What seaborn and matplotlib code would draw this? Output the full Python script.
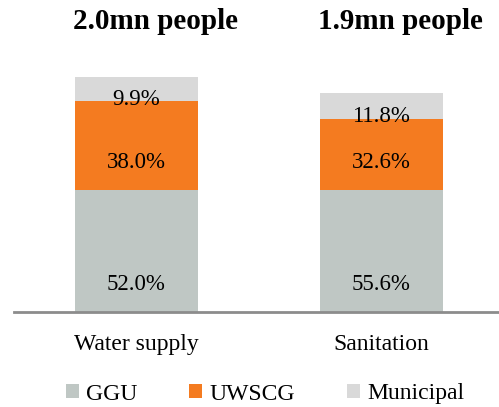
"""Stacked bars: share of people served by GGU, UWSCG and municipal providers."""

import matplotlib

matplotlib.use("Agg")

import matplotlib.pyplot as plt
import numpy as np
import pandas as pd
import seaborn as sns
from matplotlib.patches import Patch

categories = ["Water supply", "Sanitation"]
people_mn = [2.0, 1.86]
people_labels = ["2.0mn people", "1.9mn people"]
providers = ["GGU", "UWSCG", "Municipal"]
ggu_pct = [52.0, 55.6]
uwscg_pct = [38.0, 32.6]
municipal_pct = [9.9, 11.8]

COLORS = {"GGU": "#BFC7C4", "UWSCG": "#F47B20", "Municipal": "#D9D9D9"}

sns.set_theme(style="white")
plt.rcParams["font.family"] = ["Liberation Serif", "DejaVu Serif"]
plt.rcParams["text.color"] = "black"
plt.rcParams["xtick.color"] = "black"

shares = np.array([ggu_pct, uwscg_pct, municipal_pct]) / 100.0
heights = shares * np.array(people_mn)
tops = np.cumsum(heights, axis=0)
bottoms = tops - heights

fig = plt.figure(figsize=(4.99, 4.07), dpi=100)
ax = fig.add_axes([14 / 499, 1 - 312 / 407, 484 / 499, 307 / 407])

# draw cumulative totals from the top segment down so each layer covers the next
for i in reversed(range(len(providers))):
    df = pd.DataFrame({"category": categories, "value": tops[i]})
    sns.barplot(data=df, x="category", y="value", color=COLORS[providers[i]],
                width=0.5, saturation=1, linewidth=0, ax=ax)

for i, name in enumerate(providers):
    pct = [ggu_pct, uwscg_pct, municipal_pct][i]
    for j in range(len(categories)):
        if heights[i, j] > 0.4:
            y = bottoms[i, j] + 0.235
        else:
            y = bottoms[i, j] + heights[i, j] / 2 - 0.09
        ax.text(j, y, f"{pct[j]:.1f}%", ha="center", va="center", fontsize=16.5, color="black")

for j, label in enumerate(people_labels):
    ax.text(j + 0.077, 2.47, label, ha="center", va="center", fontsize=21, fontweight="bold")

ax.set_xlim(-0.5, 1.476)
ax.set_ylim(0, 307 / 117.5)
ax.set_xlabel("")
ax.set_ylabel("")
ax.set_yticks([])
ax.tick_params(axis="x", length=0, pad=16, labelsize=17)
for side in ["top", "right", "left"]:
    ax.spines[side].set_visible(False)
ax.spines["bottom"].set_color("#8C8C8C")
ax.spines["bottom"].set_linewidth(2)

handles = [Patch(facecolor=COLORS[p], edgecolor="none", label=p) for p in providers]
fig.legend(handles=handles, loc="center", bbox_to_anchor=(265 / 499, 1 - 394 / 407),
           ncol=3, frameon=False, fontsize=17, handlelength=0.55, handleheight=0.55,
           handletextpad=0.3, columnspacing=2.2)

fig.savefig("out.png", dpi=100)
